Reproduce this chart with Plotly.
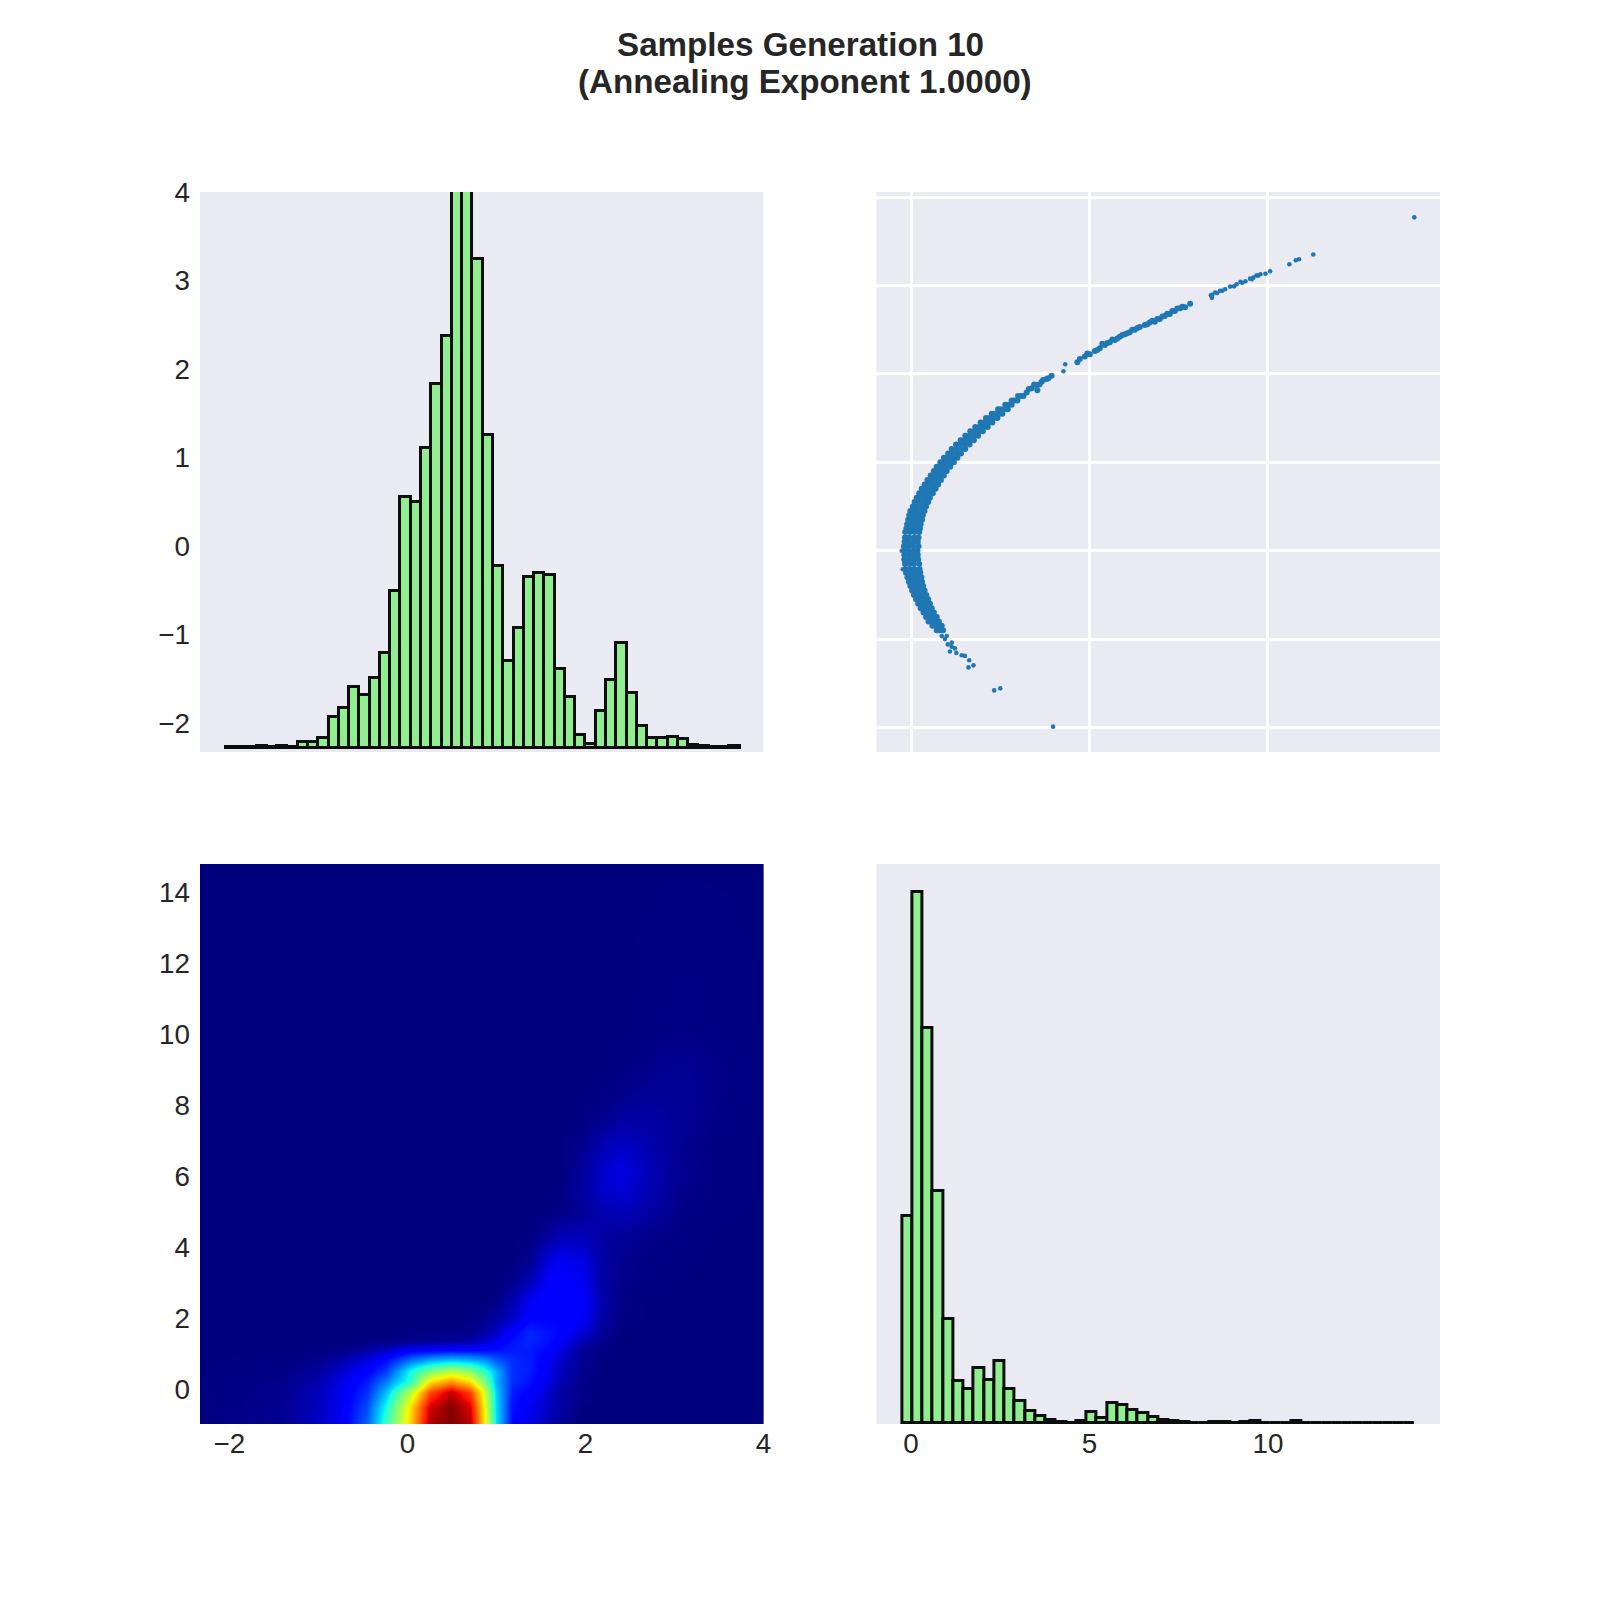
import numpy as np
import plotly.graph_objects as go

title_lines = ["Samples Generation 10", "(Annealing Exponent 1.0000)"]

# Marginal histogram of parameter 1: bar tops as read on the top-left y axis
hist1_start = -2.04
hist1_width = 0.1154
hist1_base = -2.285
hist1_tops = [-2.270, -2.277, -2.270, -2.262, -2.277, -2.262, -2.270, -2.213, -2.213, -2.176,
              -1.930, -1.829, -1.591, -1.686, -1.497, -1.207, -0.506, 0.556, 0.500, 1.110,
              1.826, 2.369, 4.500, 4.200, 3.246, 1.253, -0.224, -1.298, -0.925, -0.355,
              -0.303, -0.333, -1.395, -1.712, -2.141, -2.239, -1.870, -1.519, -1.101, -1.666,
              -2.036, -2.175, -2.175, -2.164, -2.186, -2.251, -2.262, -2.273, -2.273, -2.262]

# Marginal histogram of parameter 2: bar tops as read on the bottom-left y scale
hist2_start = -0.25
hist2_width = 0.287
hist2_base = -0.975
hist2_tops = [4.87, 14.03, 10.19, 5.58, 1.98, 0.217, -0.01, 0.584, 0.245, 0.782,
              0.01, -0.347, -0.629, -0.77, -0.875, -0.94, -0.965, -0.894, -0.649, -0.827,
              -0.395, -0.443, -0.593, -0.686, -0.79, -0.875, -0.903, -0.931, -0.965, -0.965,
              -0.923, -0.923, -0.96, -0.923, -0.91, -0.965, -0.965, -0.965, -0.91, -0.965,
              -0.965, -0.965, -0.965, -0.965, -0.965, -0.965, -0.965, -0.965, -0.965, -0.965]

# Dense part of the sample cloud: (y, [x values at that y])
band_rows = [
    (-0.90, [0.72, 0.78, 0.86, 0.90]), (-0.85, [0.60, 0.68, 0.78, 0.86]),
    (-0.80, [0.49, 0.58, 0.71, 0.78]), (-0.75, [0.42, 0.50, 0.62, 0.72]),
    (-0.70, [0.35, 0.43, 0.55, 0.64]), (-0.65, [0.27, 0.36, 0.48, 0.58]),
    (-0.60, [0.20, 0.30, 0.43, 0.53]), (-0.55, [0.14, 0.24, 0.37, 0.48]),
    (-0.50, [0.08, 0.19, 0.31, 0.43]), (-0.45, [0.03, 0.14, 0.27, 0.38]),
    (-0.40, [-0.02, 0.10, 0.23, 0.34]), (-0.35, [-0.06, 0.06, 0.19, 0.31]),
    (-0.30, [-0.10, 0.03, 0.15, 0.29]), (-0.25, [-0.14, -0.01, 0.13, 0.26]),
    (-0.21, [-0.15, -0.03, 0.10, 0.24]), (-0.15, [-0.17, -0.04, 0.08, 0.23]),
    (-0.10, [-0.19, -0.06, 0.07, 0.20]), (-0.05, [-0.19, -0.07, 0.06, 0.19]),
    (0.00, [-0.19, -0.07, 0.07, 0.18]), (0.05, [-0.20, -0.07, 0.06, 0.21]),
    (0.10, [-0.18, -0.06, 0.07, 0.19]), (0.15, [-0.17, -0.05, 0.09, 0.21]),
    (0.21, [-0.16, -0.03, 0.10, 0.23]), (0.25, [-0.13, -0.01, 0.13, 0.25]),
    (0.30, [-0.11, 0.02, 0.15, 0.27]), (0.35, [-0.08, 0.05, 0.18, 0.31]),
    (0.40, [-0.05, 0.09, 0.22, 0.33]), (0.45, [-0.02, 0.12, 0.26, 0.38]),
    (0.50, [0.05, 0.16, 0.30, 0.42]), (0.55, [0.10, 0.22, 0.36, 0.48]),
    (0.60, [0.16, 0.28, 0.42, 0.53]), (0.65, [0.23, 0.35, 0.49, 0.61]),
    (0.70, [0.30, 0.42, 0.57, 0.69]), (0.75, [0.38, 0.50, 0.64, 0.76]),
    (0.80, [0.46, 0.58, 0.71, 0.84]), (0.85, [0.55, 0.66, 0.80, 0.92]),
    (0.90, [0.64, 0.75, 0.89, 1.00]), (0.95, [0.72, 0.84, 0.98, 1.10]),
    (1.00, [0.82, 0.94, 1.08, 1.20]), (1.05, [0.92, 1.04, 1.18, 1.30]),
    (1.10, [1.04, 1.15, 1.29, 1.40]), (1.15, [1.14, 1.26, 1.40, 1.52]),
    (1.20, [1.26, 1.38, 1.52, 1.64]), (1.25, [1.39, 1.50, 1.64, 1.76]),
    (1.30, [1.52, 1.63, 1.77, 1.88]), (1.35, [1.66, 1.77, 1.90, 2.01]),
    (1.40, [1.80, 1.91, 2.04, 2.15]), (1.45, [1.95, 2.05, 2.18, 2.28]),
    (1.50, [2.10, 2.20, 2.32, 2.42]), (1.55, [2.26, 2.36, 2.48, 2.56]),
    (1.60, [2.44, 2.52, 2.63, 2.71]), (1.65, [2.64, 2.74, 2.82]),
    (1.70, [2.82, 2.90, 2.98]), (1.75, [3.00, 3.08, 3.15]),
]

# Thick stretch of the upper arm
arm_x = [3.24, 3.38, 3.54, 3.52, 3.66, 3.80, 3.94, 3.30, 3.45, 3.60, 3.70, 3.85,
         4.66, 4.73, 4.87, 5.01, 5.15, 5.29, 5.43, 5.57, 5.71, 5.85, 5.99, 6.13, 6.27, 6.41, 6.55, 6.69, 6.83, 6.97, 7.11, 7.25, 7.39, 7.54, 7.68, 7.82,
         4.94, 5.22, 5.50, 5.78, 6.06, 6.34, 6.62, 5.36, 5.64, 5.92, 6.20,
         6.76, 6.90, 7.04, 7.18, 7.32, 7.46, 7.60]
arm_y = [1.79, 1.837, 1.814, 1.874, 1.91, 1.942, 1.98, 1.83, 1.88, 1.88, 1.93, 1.95,
         2.13, 2.169, 2.195, 2.222, 2.26, 2.29, 2.327, 2.357, 2.383, 2.42, 2.448, 2.47, 2.5, 2.53, 2.553, 2.58, 2.59, 2.62, 2.655, 2.678, 2.712, 2.742, 2.753, 2.794,
         2.23, 2.27, 2.35, 2.40, 2.46, 2.52, 2.56, 2.34, 2.39, 2.44, 2.50,
         2.60, 2.62, 2.65, 2.68, 2.71, 2.74, 2.76]

# Individually read samples: the far arm and both tails
tail_x = [2.33, 2.50, 1.61, 1.75, 1.63, 1.51, 1.42, 1.27, 1.09, 1.23, 1.14, 1.03, 1.14, 0.95, 1.00, 0.86, 0.81, 3.98, -0.26, -0.23, -0.17,
          14.10, 11.27, 10.87, 10.78, 10.60, 10.06, 9.93, 9.79, 9.68, 9.59, 9.50, 9.37, 9.23, 9.12, 8.94, 8.80,
          8.66, 8.52, 8.44, 8.40, 8.43, 9.72, 9.55, 9.28, 9.05, 8.72, 8.58, 4.32, 4.27]
tail_y = [-1.58, -1.557, -1.32, -1.297, -1.24, -1.19, -1.183, -1.157, -1.14, -1.105, -1.086, -1.06, -1.04, -1.0, -0.965, -0.965, -0.9, -1.99, 0.0, -0.21, 0.215,
          3.77, 3.35, 3.296, 3.285, 3.24, 3.16, 3.133, 3.127, 3.115, 3.088, 3.077, 3.047, 3.04, 3.013, 2.987, 2.957,
          2.94, 2.92, 2.893, 2.89, 2.86, 3.11, 3.07, 3.03, 2.99, 2.94, 2.915, 2.108, 2.03]

# Density image (0 = darkest blue, 1 = darkest red)
kde_x = [-2.33, -1.4, -1.0, -0.72, -0.45, -0.24, 0.04, 0.25, 0.49, 0.7, 0.87, 1.0, 1.17, 1.37, 1.57, 1.73, 1.97, 2.2, 2.41, 2.7, 3.1, 3.5, 4.0]
kde_y = [-0.99, -0.5, -0.1, 0.2, 0.5, 0.8, 1.1, 1.35, 1.6, 2.0, 2.5, 3.0, 3.6, 4.3, 5.0, 5.6, 6.2, 6.9, 7.6, 8.4, 9.2, 10.2, 14.81]
kde_z = [
    [0, .015, .06, .11, .22, .42, .70, .96, 1.0, .95, .65, .35, .13, .09, .05, .02, 0, 0, 0, 0, 0, 0, 0],
    [0, .015, .055, .105, .20, .38, .68, .93, 1.0, .92, .63, .34, .14, .10, .06, .03, 0, 0, 0, 0, 0, 0, 0],
    [0, .012, .05, .10, .17, .31, .58, .83, .94, .84, .60, .33, .15, .12, .07, .03, .005, 0, 0, 0, 0, 0, 0],
    [0, .01, .04, .09, .15, .25, .41, .68, .76, .68, .50, .30, .17, .14, .09, .04, .01, 0, 0, 0, 0, 0, 0],
    [0, .005, .025, .07, .12, .18, .38, .50, .58, .52, .40, .30, .17, .15, .10, .05, .012, 0, 0, 0, 0, 0, 0],
    [0, .003, .012, .04, .09, .14, .25, .31, .34, .32, .28, .22, .17, .15, .11, .06, .015, 0, 0, 0, 0, 0, 0],
    [0, 0, .003, .01, .03, .06, .11, .12, .13, .13, .13, .14, .15, .15, .125, .08, .02, .003, 0, 0, 0, 0, 0],
    [0, 0, 0, 0, .002, .004, .01, .02, .025, .035, .07, .10, .14, .16, .14, .11, .04, .01, 0, 0, 0, 0, 0],
    [0, 0, 0, 0, 0, 0, .002, .005, .008, .012, .03, .06, .12, .16, .14, .125, .07, .02, .002, 0, 0, 0, 0],
    [0, 0, 0, 0, 0, 0, 0, 0, 0, .003, .012, .03, .06, .12, .125, .125, .105, .03, .004, 0, 0, 0, 0],
    [0, 0, 0, 0, 0, 0, 0, 0, 0, 0, 0, .005, .04, .10, .12, .125, .115, .035, .005, 0, 0, 0, 0],
    [0, 0, 0, 0, 0, 0, 0, 0, 0, 0, 0, 0, .012, .05, .105, .12, .10, .03, .01, .003, 0, 0, 0],
    [0, 0, 0, 0, 0, 0, 0, 0, 0, 0, 0, 0, 0, .015, .08, .105, .085, .03, .012, .005, .002, 0, 0],
    [0, 0, 0, 0, 0, 0, 0, 0, 0, 0, 0, 0, 0, .002, .02, .05, .05, .03, .02, .01, .003, 0, 0],
    [0, 0, 0, 0, 0, 0, 0, 0, 0, 0, 0, 0, 0, 0, .002, .005, .02, .04, .05, .03, .006, .001, 0],
    [0, 0, 0, 0, 0, 0, 0, 0, 0, 0, 0, 0, 0, 0, 0, .002, .03, .065, .075, .045, .01, .002, 0],
    [0, 0, 0, 0, 0, 0, 0, 0, 0, 0, 0, 0, 0, 0, 0, 0, .025, .065, .085, .05, .012, .002, 0],
    [0, 0, 0, 0, 0, 0, 0, 0, 0, 0, 0, 0, 0, 0, 0, 0, .012, .045, .06, .04, .015, .002, 0],
    [0, 0, 0, 0, 0, 0, 0, 0, 0, 0, 0, 0, 0, 0, 0, 0, .003, .015, .03, .03, .018, .005, 0],
    [0, 0, 0, 0, 0, 0, 0, 0, 0, 0, 0, 0, 0, 0, 0, 0, 0, .003, .01, .018, .02, .008, 0],
    [0, 0, 0, 0, 0, 0, 0, 0, 0, 0, 0, 0, 0, 0, 0, 0, 0, 0, .003, .008, .015, .008, 0],
    [0, 0, 0, 0, 0, 0, 0, 0, 0, 0, 0, 0, 0, 0, 0, 0, 0, 0, 0, .002, .006, .003, 0],
    [0, 0, 0, 0, 0, 0, 0, 0, 0, 0, 0, 0, 0, 0, 0, 0, 0, 0, 0, 0, 0, 0, 0],
]

jet = [[0, "rgb(0,0,127)"], [.11, "rgb(0,0,255)"], [.125, "rgb(0,0,255)"], [.34, "rgb(0,219,255)"],
       [.35, "rgb(0,229,247)"], [.375, "rgb(20,255,226)"], [.64, "rgb(238,255,12)"], [.65, "rgb(247,246,0)"],
       [.66, "rgb(255,236,0)"], [.89, "rgb(255,19,0)"], [.91, "rgb(232,0,0)"], [1, "rgb(127,0,0)"]]

PANEL = "#EAEAF2"
TEXT = "#262626"
BAR = "#90EE90"
EDGE = "#0d0d0d"
EDGE_W = 3
DOT = "#1f77b4"
W = 1600.0


def bars(start, width, tops, base, xa, ya):
    tops = np.array(tops)
    centers = start + width * (np.arange(len(tops)) + 0.5)
    return go.Bar(x=centers, y=tops - base, base=base, width=width, xaxis=xa, yaxis=ya,
                  marker=dict(color=BAR, line=dict(color=EDGE, width=EDGE_W)), showlegend=False)


def dots(xs, ys, size):
    return go.Scatter(x=xs, y=ys, mode="markers", xaxis="x2", yaxis="y2",
                      marker=dict(color=DOT, size=size, line=dict(width=0)), showlegend=False)


fig = go.Figure()
fig.add_trace(bars(hist1_start, hist1_width, hist1_tops, hist1_base, "x", "y"))

band_x = [x for y, xs in band_rows for x in xs]
band_y = [y for y, xs in band_rows for x in xs]
fig.add_trace(dots(band_x, band_y, 6))
fig.add_trace(dots(arm_x, arm_y, 6))
fig.add_trace(dots(tail_x, tail_y, 4.6))

fig.add_trace(go.Heatmap(x=kde_x, y=kde_y, z=kde_z, zmin=0, zmax=1, colorscale=jet, zsmooth="best",
                         showscale=False, xaxis="x3", yaxis="y3"))

fig.add_trace(bars(hist2_start, hist2_width, hist2_tops, hist2_base, "x4", "y4"))

LEFT = [200 / W, 763.6 / W]
RIGHT = [876.4 / W, 1440 / W]
TOP = [(1600 - 752) / W, (1600 - 192) / W]
BOTTOM = [(1600 - 1424) / W, (1600 - 864) / W]
RANGE1 = [-2.33, 4.0]
RANGE_SC_X = [-0.97, 14.82]
RANGE_SC_Y = [-2.277, 4.057]
RANGE_D_Y = [-0.99, 14.81]


def axis(domain, rng, ticks, side, labels=True, grid=False, anchor=None):
    return dict(domain=domain, range=rng, tickmode="array", tickvals=ticks, showticklabels=labels,
                showgrid=grid, gridcolor="white", gridwidth=2.5, zeroline=False, showline=False,
                automargin=False, ticks="", ticklen=0, ticklabelstandoff=0 if side == "x" else 9,
                tickfont=dict(size=27.8, color=TEXT, family="Liberation Sans"), anchor=anchor)


ticks_m2_4 = [-2, -1, 0, 1, 2, 3, 4]
title_font = dict(size=33.2, color=TEXT, family="Liberation Sans")
fig.update_layout(
    width=1600, height=1600, margin=dict(l=0, r=0, t=0, b=0), autosize=False,
    paper_bgcolor="white", plot_bgcolor=PANEL, bargap=0,
    xaxis=axis(LEFT, RANGE1, [-2, 0, 2, 4], "x", labels=False, anchor="y"),
    yaxis=axis(TOP, RANGE1, ticks_m2_4, "y", anchor="x"),
    xaxis2=axis(RIGHT, RANGE_SC_X, [0, 5, 10], "x", labels=False, grid=True, anchor="y2"),
    yaxis2=axis(TOP, RANGE_SC_Y, ticks_m2_4, "y", labels=False, grid=True, anchor="x2"),
    xaxis3=axis(LEFT, RANGE1, [-2, 0, 2, 4], "x", anchor="y3"),
    yaxis3=axis(BOTTOM, RANGE_D_Y, [0, 2, 4, 6, 8, 10, 12, 14], "y", anchor="x3"),
    xaxis4=axis(RIGHT, RANGE_SC_X, [0, 5, 10], "x", anchor="y4"),
    yaxis4=axis(BOTTOM, RANGE_D_Y, [0, 2, 4, 6, 8, 10, 12, 14], "y", labels=False, anchor="x4"),
    annotations=[
        dict(text="<b>%s</b>" % title_lines[0], x=0.5, y=1 - 45 / W, xref="paper", yref="paper",
             showarrow=False, xanchor="center", yanchor="middle", font=title_font),
        dict(text="<b>%s</b>" % title_lines[1], x=804.5 / W, y=1 - 81 / W, xref="paper", yref="paper",
             showarrow=False, xanchor="center", yanchor="middle", font=title_font),
    ],
)

fig.write_html(
    "out.html",
    config=dict(displayModeBar=False),
    post_script="document.body.style.margin='0';",
)
